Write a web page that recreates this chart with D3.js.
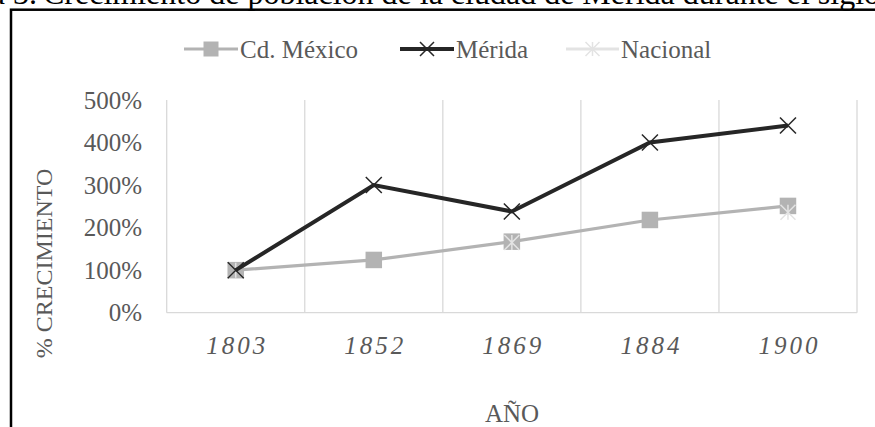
<!DOCTYPE html>
<html><head><meta charset="utf-8">
<script src="https://cdn.jsdelivr.net/npm/d3@7"></script>
<style>
html,body{margin:0;padding:0;background:#fff;overflow:hidden;}
text{font-family:"Liberation Serif","Times New Roman",serif;}
</style></head>
<body><svg id="c" width="875" height="427"></svg>
<script>
const categories = ["1803","1852","1869","1884","1900"];
const cdmx = [100,124,167,218,251];
const merida = [100,300,238,400,440];
const nacional = [100,null,165,null,236];
const yTicks = [0,100,200,300,400,500];
const seriesNames = ["Cd. México","Mérida","Nacional"];

const svg = d3.select("#c");
const txt = "#595959";

// title (clipped at top, as in the reference)
svg.append("text").attr("x",37).attr("y",3.5).attr("text-anchor","end")
  .attr("font-size",32).attr("fill","#000").text("Gráfica 3.");
svg.append("text").attr("x",43).attr("y",3.5)
  .attr("font-size",32).attr("fill","#000")
  .text("Crecimiento de población de la ciudad de Mérida durante el siglo XIX");

// frame
svg.append("rect").attr("x",11).attr("y",9.7).attr("width",900).attr("height",450)
  .attr("fill","none").attr("stroke","#000").attr("stroke-width",2.5);

const x = d3.scaleBand().domain(categories).range([166.7,857]);
const y = d3.scaleLinear().domain([0,500]).range([312.7,100]);

// vertical gridlines at band edges
const edges = categories.map(c=>x(c)).concat([x.range()[1]]);
svg.append("g").selectAll("line").data(edges).join("line")
  .attr("x1",d=>d).attr("x2",d=>d).attr("y1",y(500)).attr("y2",y(0))
  .attr("stroke","#d9d9d9").attr("stroke-width",1.3);
svg.append("line").attr("x1",x.range()[0]).attr("x2",x.range()[1])
  .attr("y1",y(0)).attr("y2",y(0)).attr("stroke","#d9d9d9").attr("stroke-width",1.3);

// y tick labels
svg.append("g").selectAll("text").data(yTicks).join("text")
  .attr("x",142).attr("y",d=>y(d)+8.5).attr("text-anchor","end")
  .attr("font-size",25).attr("fill",txt).text(d=>d+"%");

// x tick labels
svg.append("g").selectAll("text").data(categories).join("text")
  .attr("x",d=>x(d)+x.bandwidth()/2+1.5).attr("y",354)
  .attr("text-anchor","middle").attr("font-size",25).attr("font-style","italic")
  .attr("letter-spacing",3).attr("fill",txt).text(d=>d);

// axis titles
svg.append("text").attr("x",512).attr("y",421.5).attr("text-anchor","middle")
  .attr("font-size",25).attr("fill",txt).text("AÑO");
svg.append("text").attr("transform","translate(52,263.5) rotate(-90)")
  .attr("text-anchor","middle").attr("font-size",24).attr("fill",txt).text("% CRECIMIENTO");

const cx = c => x(c)+x.bandwidth()/2;
const line = d3.line().defined(d=>d[1]!=null).x(d=>cx(d[0])).y(d=>y(d[1]));

function square(g,px,py,s,col){
  g.append("rect").attr("x",px-s/2).attr("y",py-s/2).attr("width",s).attr("height",s).attr("fill",col);
}
function cross(g,px,py,s,col,w){
  const h=s/2;
  g.append("path").attr("d",`M${px-h},${py-h}L${px+h},${py+h}M${px-h},${py+h}L${px+h},${py-h}`)
   .attr("stroke",col).attr("stroke-width",w).attr("fill","none");
}
function star(g,px,py,s,col,w){
  const h=s/2;
  g.append("path").attr("d",`M${px-h},${py-h}L${px+h},${py+h}M${px-h},${py+h}L${px+h},${py-h}M${px},${py-h}L${px},${py+h}`)
   .attr("stroke",col).attr("stroke-width",w).attr("fill","none");
}

const cdCol="#b3b3b3", meCol="#262626", naCol="#e3e3e3";
const gp = svg.append("g");
// Cd. México
gp.append("path").datum(categories.map((c,i)=>[c,cdmx[i]])).attr("d",line)
  .attr("fill","none").attr("stroke",cdCol).attr("stroke-width",3.2);
categories.forEach((c,i)=>square(gp,cx(c),y(cdmx[i]),16.5,cdCol));
// Nacional
gp.append("path").datum(categories.map((c,i)=>[c,nacional[i]])).attr("d",line)
  .attr("fill","none").attr("stroke",naCol).attr("stroke-width",3.2);
categories.forEach((c,i)=>{ if(nacional[i]!=null) star(gp,cx(c),y(nacional[i]),15,naCol,1.5); });
// Mérida
gp.append("path").datum(categories.map((c,i)=>[c,merida[i]])).attr("d",line)
  .attr("fill","none").attr("stroke",meCol).attr("stroke-width",4);
categories.forEach((c,i)=>cross(gp,cx(c),y(merida[i]),16,meCol,1.5));

// legend
const lg = svg.append("g");
const ly = 49;
const items = [
  {name:seriesNames[0], x0:184, col:cdCol, w:3.2, mk:"sq", tx:240},
  {name:seriesNames[1], x0:400, col:meCol, w:4, mk:"x", tx:456},
  {name:seriesNames[2], x0:566, col:naCol, w:3.2, mk:"st", tx:621}
];
items.forEach(it=>{
  const x1 = it.tx-2;
  lg.append("line").attr("x1",it.x0).attr("x2",x1).attr("y1",ly).attr("y2",ly)
    .attr("stroke",it.col).attr("stroke-width",it.w);
  const m=(it.x0+x1)/2;
  if(it.mk==="sq") square(lg,m,ly,15,it.col);
  if(it.mk==="x") cross(lg,m,ly,14,it.col,1.5);
  if(it.mk==="st") star(lg,m,ly,14,it.col,1.5);
  lg.append("text").attr("x",it.tx).attr("y",ly+8.5).attr("font-size",25)
    .attr("fill",txt).text(it.name);
});
</script></body></html>
